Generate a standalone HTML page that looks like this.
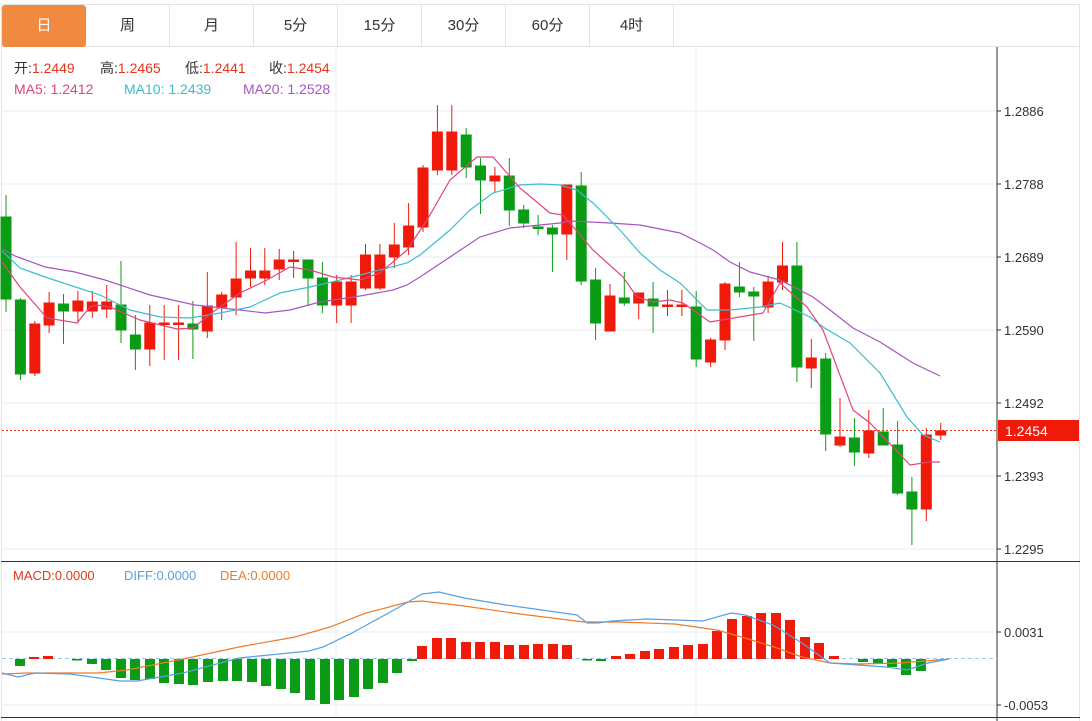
<!DOCTYPE html>
<html><head><meta charset="utf-8"><style>
html,body{margin:0;padding:0;background:#fff;width:1092px;height:721px;overflow:hidden}
body{font-family:"Liberation Sans","Noto Sans CJK SC",sans-serif;position:relative}
.tabs{position:absolute;left:1px;top:4px;width:1079px;height:43px;border:1px solid #e3e3e3;border-bottom:1px solid #e3e3e3;box-sizing:border-box}
.tab{position:absolute;top:0;height:42px;width:84px;border-right:1px solid #e3e3e3;text-align:center;line-height:42px;font-size:15px;color:#333;box-sizing:border-box}
.tab.on{background:#f08a40;color:#fff;border-radius:3px;border:none}
.frame{position:absolute;left:1px;top:47px;width:1079px;height:674px;border-left:1px solid #e6e6e6;border-right:1px solid #e6e6e6;box-sizing:border-box}
</style></head><body>
<div class="tabs">
<div class="tab on" style="left:0">日</div>
<div class="tab" style="left:84px">周</div>
<div class="tab" style="left:168px">月</div>
<div class="tab" style="left:252px">5分</div>
<div class="tab" style="left:336px">15分</div>
<div class="tab" style="left:420px">30分</div>
<div class="tab" style="left:504px">60分</div>
<div class="tab" style="left:588px">4时</div>
</div>
<div class="frame"></div>
<svg width="1092" height="721" style="position:absolute;left:0;top:0" font-family="Liberation Sans, Noto Sans CJK SC, sans-serif">
<g stroke="#e6edf3" stroke-width="1">
<line x1="2" x2="997" y1="111" y2="111"/><line x1="2" x2="997" y1="184" y2="184"/>
<line x1="2" x2="997" y1="257" y2="257"/><line x1="2" x2="997" y1="330" y2="330"/>
<line x1="2" x2="997" y1="403" y2="403"/><line x1="2" x2="997" y1="476" y2="476"/>
<line x1="2" x2="997" y1="549" y2="549"/>
<line x1="2" x2="997" y1="632" y2="632"/><line x1="2" x2="997" y1="705" y2="705"/>
<line x1="336" x2="336" y1="47" y2="717"/><line x1="696" x2="696" y1="47" y2="717"/>
</g>
<line x1="997" x2="997" y1="47" y2="721" stroke="#333"/>
<line x1="1" x2="1080" y1="561.5" y2="561.5" stroke="#333"/>
<line x1="1" x2="1080" y1="717.5" y2="717.5" stroke="#333"/>
<g font-size="13" fill="#333" stroke="none">
<text x="1004" y="116">1.2886</text><text x="1004" y="189">1.2788</text>
<text x="1004" y="262">1.2689</text><text x="1004" y="335">1.2590</text>
<text x="1004" y="408">1.2492</text><text x="1004" y="481">1.2393</text>
<text x="1004" y="554">1.2295</text>
<text x="1004" y="637">0.0031</text><text x="1004" y="710">-0.0053</text>
</g>
<g stroke="#333"><line x1="997" x2="1001" y1="111" y2="111"/><line x1="997" x2="1001" y1="184" y2="184"/><line x1="997" x2="1001" y1="257" y2="257"/><line x1="997" x2="1001" y1="330" y2="330"/><line x1="997" x2="1001" y1="403" y2="403"/><line x1="997" x2="1001" y1="476" y2="476"/><line x1="997" x2="1001" y1="549" y2="549"/><line x1="997" x2="1001" y1="632" y2="632"/><line x1="997" x2="1001" y1="705" y2="705"/></g>
<line x1="2" x2="997" y1="430.5" y2="430.5" stroke="#e8341c" stroke-dasharray="2,2"/>
<rect x="998" y="420" width="81" height="21" fill="#f01a0a"/>
<text x="1005" y="436" font-size="14" fill="#fff">1.2454</text>
<line x1="2" x2="997" y1="658.5" y2="658.5" stroke="#9cc8e8" stroke-dasharray="4,3"/>

<g font-size="14">
<text x="14" y="73" fill="#333">开:<tspan fill="#e8341c">1.2449</tspan></text>
<text x="100" y="73" fill="#333">高:<tspan fill="#e8341c">1.2465</tspan></text>
<text x="185" y="73" fill="#333">低:<tspan fill="#e8341c">1.2441</tspan></text>
<text x="269" y="73" fill="#333">收:<tspan fill="#e8341c">1.2454</tspan></text>
<text x="14" y="94"><tspan fill="#e0457b">MA5:  1.2412</tspan><tspan fill="#3bbcd0" x="124">MA10:  1.2439</tspan><tspan fill="#a855c0" x="243">MA20:  1.2528</tspan></text>
</g>
<text x="13" y="580" font-size="13"><tspan fill="#e8341c">MACD:0.0000</tspan><tspan fill="#5aa0e0" x="124">DIFF:0.0000</tspan><tspan fill="#f07a28" x="220">DEA:0.0000</tspan></text>

<g id="c">
<g stroke="#0a9c14" fill="#0a9c14">
<line x1="6" x2="6" y1="195" y2="312"/><rect x="1" y="217" width="10" height="82"/>
<line x1="20.4" x2="20.4" y1="298" y2="380"/><rect x="15.4" y="300" width="10" height="74"/>
<line x1="63.5" x2="63.5" y1="294" y2="344"/><rect x="58.5" y="304" width="10" height="7"/>
<line x1="121" x2="121" y1="261" y2="343"/><rect x="116" y="305" width="10" height="25"/>
<line x1="135.4" x2="135.4" y1="315" y2="370"/><rect x="130.4" y="335" width="10" height="14"/>
<line x1="192.9" x2="192.9" y1="301" y2="359"/><rect x="187.9" y="324" width="10" height="5"/>
<line x1="308" x2="308" y1="260" y2="306"/><rect x="303" y="260" width="10" height="18"/>
<line x1="322.4" x2="322.4" y1="262" y2="313"/><rect x="317.4" y="278" width="10" height="27"/>
<line x1="466.2" x2="466.2" y1="128" y2="178"/><rect x="461.2" y="135" width="10" height="32"/>
<line x1="480.5" x2="480.5" y1="158" y2="214"/><rect x="475.5" y="166" width="10" height="14"/>
<line x1="509.3" x2="509.3" y1="158" y2="226"/><rect x="504.3" y="176" width="10" height="34"/>
<line x1="523.7" x2="523.7" y1="205" y2="228"/><rect x="518.7" y="210" width="10" height="13"/>
<line x1="538.1" x2="538.1" y1="215" y2="235"/><rect x="533.1" y="227" width="10" height="1.5"/>
<line x1="552.4" x2="552.4" y1="225" y2="272"/><rect x="547.4" y="228" width="10" height="6"/>
<line x1="581.2" x2="581.2" y1="172" y2="285"/><rect x="576.2" y="186" width="10" height="95"/>
<line x1="595.6" x2="595.6" y1="268" y2="340"/><rect x="590.6" y="280" width="10" height="43"/>
<line x1="624.3" x2="624.3" y1="272" y2="306"/><rect x="619.3" y="298" width="10" height="5"/>
<line x1="653.1" x2="653.1" y1="282" y2="333"/><rect x="648.1" y="299" width="10" height="7"/>
<line x1="696.2" x2="696.2" y1="291" y2="367"/><rect x="691.2" y="307" width="10" height="52"/>
<line x1="739.4" x2="739.4" y1="262" y2="297"/><rect x="734.4" y="287" width="10" height="5"/>
<line x1="753.8" x2="753.8" y1="287" y2="341"/><rect x="748.8" y="292" width="10" height="4"/>
<line x1="796.9" x2="796.9" y1="242" y2="382"/><rect x="791.9" y="266" width="10" height="101"/>
<line x1="825.7" x2="825.7" y1="353" y2="451"/><rect x="820.7" y="359" width="10" height="75"/>
<line x1="854.4" x2="854.4" y1="418" y2="466"/><rect x="849.4" y="438" width="10" height="14"/>
<line x1="883.2" x2="883.2" y1="408" y2="445"/><rect x="878.2" y="432" width="10" height="13"/>
<line x1="897.6" x2="897.6" y1="421" y2="495"/><rect x="892.6" y="445" width="10" height="48"/>
<line x1="911.9" x2="911.9" y1="477" y2="545"/><rect x="906.9" y="492" width="10" height="17"/>
</g>
<g stroke="#f01a0a" fill="#f01a0a">
<line x1="34.8" x2="34.8" y1="321" y2="376"/><rect x="29.8" y="324" width="10" height="49"/>
<line x1="49.1" x2="49.1" y1="292" y2="333"/><rect x="44.1" y="303" width="10" height="22"/>
<line x1="77.9" x2="77.9" y1="291" y2="323"/><rect x="72.9" y="301" width="10" height="10"/>
<line x1="92.3" x2="92.3" y1="291" y2="318"/><rect x="87.3" y="302" width="10" height="9"/>
<line x1="106.7" x2="106.7" y1="285" y2="318"/><rect x="101.7" y="302" width="10" height="7"/>
<line x1="149.8" x2="149.8" y1="305" y2="366"/><rect x="144.8" y="323" width="10" height="26"/>
<line x1="164.2" x2="164.2" y1="305" y2="360"/><rect x="159.2" y="323" width="10" height="1.5"/>
<line x1="178.6" x2="178.6" y1="305" y2="360"/><rect x="173.6" y="323" width="10" height="1.5"/>
<line x1="207.3" x2="207.3" y1="272" y2="338"/><rect x="202.3" y="306" width="10" height="25"/>
<line x1="221.7" x2="221.7" y1="292" y2="320"/><rect x="216.7" y="295" width="10" height="12"/>
<line x1="236.1" x2="236.1" y1="242" y2="315"/><rect x="231.1" y="279" width="10" height="18"/>
<line x1="250.5" x2="250.5" y1="248" y2="287"/><rect x="245.5" y="271" width="10" height="7"/>
<line x1="264.8" x2="264.8" y1="248" y2="285"/><rect x="259.8" y="271" width="10" height="7"/>
<line x1="279.2" x2="279.2" y1="249" y2="280"/><rect x="274.2" y="260" width="10" height="9"/>
<line x1="293.6" x2="293.6" y1="251" y2="278"/><rect x="288.6" y="260" width="10" height="1.5"/>
<line x1="336.7" x2="336.7" y1="275" y2="323"/><rect x="331.7" y="282" width="10" height="23"/>
<line x1="351.1" x2="351.1" y1="275" y2="323"/><rect x="346.1" y="282" width="10" height="23"/>
<line x1="365.5" x2="365.5" y1="244" y2="290"/><rect x="360.5" y="255" width="10" height="33"/>
<line x1="379.9" x2="379.9" y1="244" y2="290"/><rect x="374.9" y="255" width="10" height="33"/>
<line x1="394.3" x2="394.3" y1="223" y2="268"/><rect x="389.3" y="245" width="10" height="12"/>
<line x1="408.6" x2="408.6" y1="203" y2="255"/><rect x="403.6" y="226" width="10" height="21"/>
<line x1="423" x2="423" y1="165" y2="232"/><rect x="418" y="168" width="10" height="59"/>
<line x1="437.4" x2="437.4" y1="105" y2="175"/><rect x="432.4" y="132" width="10" height="38"/>
<line x1="451.8" x2="451.8" y1="105" y2="175"/><rect x="446.8" y="132" width="10" height="38"/>
<line x1="494.9" x2="494.9" y1="167" y2="192"/><rect x="489.9" y="176" width="10" height="5"/>
<line x1="566.8" x2="566.8" y1="185" y2="260"/><rect x="561.8" y="185" width="10" height="49"/>
<line x1="610" x2="610" y1="284" y2="331"/><rect x="605" y="296" width="10" height="35"/>
<line x1="638.7" x2="638.7" y1="293" y2="319"/><rect x="633.7" y="293" width="10" height="10"/>
<line x1="667.5" x2="667.5" y1="290" y2="316"/><rect x="662.5" y="305" width="10" height="1.5"/>
<line x1="681.9" x2="681.9" y1="290" y2="316"/><rect x="676.9" y="305" width="10" height="1.5"/>
<line x1="710.6" x2="710.6" y1="338" y2="367"/><rect x="705.6" y="340" width="10" height="22"/>
<line x1="725" x2="725" y1="282" y2="350"/><rect x="720" y="284" width="10" height="56"/>
<line x1="768.1" x2="768.1" y1="276" y2="313"/><rect x="763.1" y="282" width="10" height="25"/>
<line x1="782.5" x2="782.5" y1="242" y2="290"/><rect x="777.5" y="266" width="10" height="16"/>
<line x1="811.3" x2="811.3" y1="339" y2="388"/><rect x="806.3" y="358" width="10" height="10"/>
<line x1="840" x2="840" y1="398" y2="447"/><rect x="835" y="437" width="10" height="8"/>
<line x1="868.8" x2="868.8" y1="410" y2="458"/><rect x="863.8" y="431" width="10" height="22"/>
<line x1="926.3" x2="926.3" y1="428" y2="521"/><rect x="921.3" y="435" width="10" height="74"/>
<line x1="940.7" x2="940.7" y1="423" y2="440"/><rect x="935.7" y="431" width="10" height="4"/>
</g>
</g>
<g fill="none" stroke-width="1.2">
<polyline stroke="#a855c0" points="2,249 15,256 45,267 75,272 105,280 150,295 195,305 240,310 265,313 290,310 320,302 360,296 393,290 407,285 420,277 450,257 480,237 510,228 560,223 570,221 610,223 640,225 680,233 700,243 713,250 730,262 750,272 780,280 813,297 830,310 853,328 880,342 913,363 940,376"/>
<polyline stroke="#3bbcd0" points="2,251 20,268 45,277 100,295 130,310 160,317 190,318 220,313 250,307 280,293 310,287 340,280 360,275 407,263 420,255 450,230 470,210 493,193 520,185 540,184 560,185 577,190 593,203 620,230 640,253 660,270 680,283 707,310 730,310 760,307 780,303 810,317 823,327 850,343 880,373 907,417 923,435 940,442"/>
<polyline stroke="#e0457b" points="2,262 20,287 47,318 77,323 90,307 97,305 110,307 140,320 177,329 193,328 213,312 240,293 267,280 290,267 310,270 333,277 360,280 380,273 407,250 427,220 450,180 477,157 493,157 520,188 550,213 563,215 593,250 623,277 637,297 653,302 670,300 683,303 710,322 763,313 780,283 807,307 823,330 853,410 870,423 893,447 910,465 930,462 940,462"/>
</g>
<g fill="#0a9c14">
<rect x="15" y="659" width="10" height="7"/><rect x="72" y="659" width="10" height="1.5"/>
<rect x="87" y="659" width="10" height="5"/><rect x="101" y="659" width="10" height="11"/>
<rect x="116" y="659" width="10" height="19"/><rect x="130" y="659" width="10" height="21"/>
<rect x="145" y="659" width="10" height="20"/><rect x="159" y="659" width="10" height="24"/>
<rect x="174" y="659" width="10" height="25"/><rect x="188" y="659" width="10" height="26"/>
<rect x="203" y="659" width="10" height="23"/><rect x="218" y="659" width="10" height="22"/>
<rect x="232" y="659" width="10" height="22"/><rect x="247" y="659" width="10" height="23"/>
<rect x="261" y="659" width="10" height="27"/><rect x="276" y="659" width="10" height="30"/>
<rect x="290" y="659" width="10" height="34"/><rect x="305" y="659" width="10" height="41"/>
<rect x="320" y="659" width="10" height="45"/><rect x="334" y="659" width="10" height="41"/>
<rect x="349" y="659" width="10" height="38"/><rect x="363" y="659" width="10" height="30"/>
<rect x="378" y="659" width="10" height="24"/><rect x="392" y="659" width="10" height="14"/>
<rect x="407" y="659" width="10" height="2"/>
<rect x="582" y="659" width="10" height="1.5"/><rect x="596" y="659" width="10" height="2"/>
<rect x="858" y="659" width="10" height="3"/><rect x="873" y="659" width="10" height="4"/>
<rect x="887" y="659" width="10" height="8"/><rect x="901" y="659" width="10" height="16"/>
<rect x="916" y="659" width="10" height="12"/>
</g>
<g fill="#f01a0a">
<rect x="29" y="657" width="10" height="2"/><rect x="43" y="656" width="10" height="3"/>
<rect x="417" y="646" width="10" height="13"/><rect x="432" y="638" width="10" height="21"/>
<rect x="446" y="638" width="10" height="21"/><rect x="461" y="642" width="10" height="17"/>
<rect x="475" y="642" width="10" height="17"/><rect x="490" y="642" width="10" height="17"/>
<rect x="504" y="645" width="10" height="14"/><rect x="519" y="645" width="10" height="14"/>
<rect x="533" y="644" width="10" height="15"/><rect x="548" y="644" width="10" height="15"/>
<rect x="562" y="645" width="10" height="14"/>
<rect x="611" y="656" width="10" height="3"/><rect x="625" y="654" width="10" height="5"/>
<rect x="640" y="651" width="10" height="8"/><rect x="654" y="649" width="10" height="10"/>
<rect x="669" y="647" width="10" height="12"/><rect x="683" y="645" width="10" height="14"/>
<rect x="698" y="644" width="10" height="15"/><rect x="712" y="631" width="10" height="28"/>
<rect x="727" y="619" width="10" height="40"/><rect x="742" y="616" width="10" height="43"/>
<rect x="756" y="613" width="10" height="46"/><rect x="771" y="613" width="10" height="46"/>
<rect x="785" y="620" width="10" height="39"/><rect x="800" y="637" width="10" height="22"/>
<rect x="814" y="643" width="10" height="16"/><rect x="829" y="656" width="10" height="3"/>
</g>
<g fill="none" stroke-width="1.2">
<polyline stroke="#f07a28" points="2,674 28,673 98,673 127,670 183,659 239,647 295,637 330,627 366,613 408,602 422,601 464,606 520,614 584,622 619,622 675,624 717,630 745,638 774,647 802,657 830,663 858,664 900,663 949,659"/>
<polyline stroke="#5aa0e0" points="2,673 18,677 35,673 70,674 120,681 137,681 183,673 239,658 309,651 323,647 352,633 394,610 422,594 439,592 464,598 506,605 563,613 577,615 587,623 598,623 612,621 647,619 703,621 731,613 745,615 773,625 802,643 830,663 858,665 886,667 907,670 928,663 949,659"/>
</g>
</svg>
</body></html>
